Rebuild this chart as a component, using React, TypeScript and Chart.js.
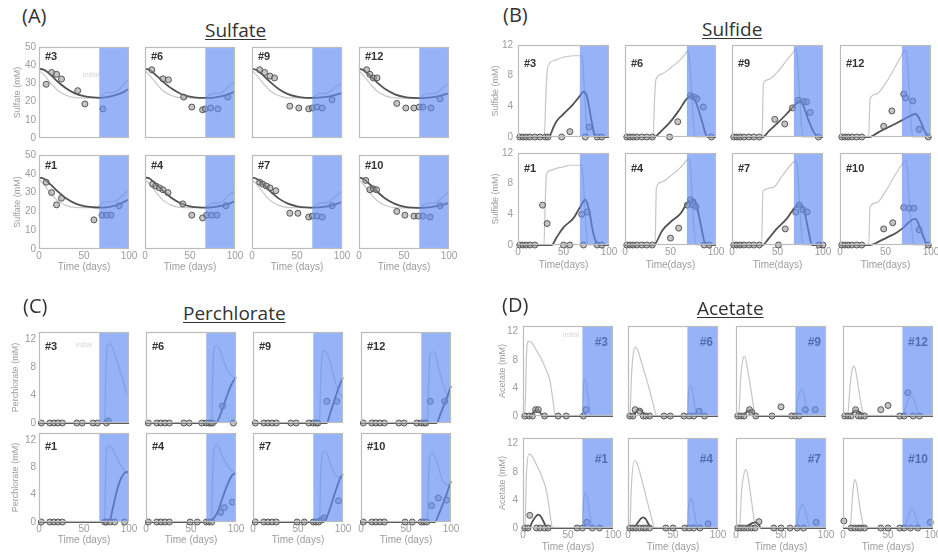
import React, { useEffect, useRef } from "react";
import { Chart, registerables } from "chart.js";
Chart.register(...registerables);

type P = [number, number];

const FONT = "'Liberation Sans', Arial, sans-serif";
const TITLE_FONT = "'Open Sans', 'Liberation Sans', sans-serif";
Chart.defaults.font.family = FONT;

// ---------- tick labels ----------
const xTicks = [0, 50, 100];
const sulfateTicks = [0, 10, 20, 30, 40, 50];
const mmTicks = [0, 4, 8, 12];

// reactor labels: top row then bottom row
const reactorLabels = ["#3", "#6", "#9", "#12", "#1", "#4", "#7", "#10"];

// ---------- (A) Sulfate ----------
const sulfateDark3: P[] = [[0,38],[5,37.6],[10,36],[15,33.8],[20,31.3],[30,27.3],[40,24.5],[50,23],[60,22.3],[68,22.1],[75,22.4],[85,23.6],[95,25.5],[100,27]];
const sulfateLight3: P[] = [[0,37],[5,35],[10,32],[15,29],[20,26.5],[30,23.5],[40,22.2],[50,22],[67,22],[70,23.5],[75,25],[80,25],[85,25.5],[90,27],[95,30],[100,32]];
const sulfatePts3: P[] = [[8,29.5],[14,36],[19.5,35],[25,32.4],[43,26],[51,18.7],[71,16]];

const sulfateDark6: P[] = [[0,38],[5,37.5],[10,35.5],[15,33.3],[20,31],[30,27],[40,24.2],[50,22.7],[60,22.1],[70,22],[80,22.5],[90,23.6],[100,25.5]];
const sulfateLight6: P[] = [[0,37],[5,34.5],[10,31.5],[15,28.5],[20,26],[30,23.2],[40,22.1],[50,22],[67,22],[70,23],[75,24.5],[82,24.5],[88,26],[94,29],[100,31]];
const sulfatePts6: P[] = [[7.5,37.5],[20,32.5],[26,32],[43,22.5],[52,17],[64,15.5],[67,16],[73,16.5],[81,16],[92,22.5]];

const sulfateDark9: P[] = [[0,38],[5,37.4],[10,35.5],[15,33.2],[20,30.8],[30,26.8],[40,24.1],[50,22.7],[60,22.1],[70,22],[80,22.4],[90,23.3],[100,24.8]];
const sulfateLight9: P[] = [[0,37],[5,34.5],[10,31.5],[15,28.5],[20,26],[30,23.2],[40,22.1],[50,22],[67,22],[70,23],[75,24.5],[82,24.5],[88,26],[94,28.5],[100,30.5]];
const sulfatePts9: P[] = [[8.5,37.5],[14,36],[20,34],[25,33],[42,17.5],[52,16.5],[63,16],[67,16.5],[72,17],[78,16.5],[89,21]];

const sulfateDark12: P[] = [[0,38],[5,37.3],[10,35.3],[15,33],[20,30.6],[30,26.6],[40,24],[50,22.6],[60,22],[70,21.9],[80,22.3],[90,23.2],[100,24.5]];
const sulfateLight12: P[] = [[0,37],[5,34.3],[10,31.3],[15,28.3],[20,25.8],[30,23],[40,22],[50,21.9],[67,21.9],[70,22.8],[75,24.3],[82,24.3],[88,25.6],[94,28],[100,30]];
const sulfatePts12: P[] = [[8.5,37.5],[12,35],[16,33],[20,33],[42,19],[52,16.5],[61,16.5],[67,17],[71,17],[80,16.5],[90,21.5]];

const sulfateDark1: P[] = [[0,38],[5,37.5],[10,35.6],[15,33.3],[20,31],[30,27],[40,24.3],[50,22.8],[60,22.2],[70,22],[80,22.6],[90,24],[100,26.5]];
const sulfateLight1: P[] = [[0,37],[5,34.5],[10,31.5],[15,28.5],[20,26],[30,23.2],[40,22.1],[50,22],[65,22],[68,23.5],[72,25],[80,25],[86,25.8],[92,28],[100,31.5]];
const sulfatePts1: P[] = [[8,35.5],[14,30],[19.5,23.5],[25,27],[61,15.5],[70,18],[75,18],[80,18],[89,23]];

const sulfateDark4: P[] = [[0,38],[5,37.5],[10,35.5],[15,33.3],[20,31],[30,27],[40,24.2],[50,22.7],[60,22.1],[70,22],[80,22.5],[90,23.6],[100,25.5]];
const sulfateLight4: P[] = [[0,37],[5,34.5],[10,31.5],[15,28.5],[20,26],[30,23.2],[40,22.1],[50,22],[67,22],[70,23],[75,24.5],[82,24.5],[88,26],[94,29],[100,31]];
const sulfatePts4: P[] = [[8.5,34.5],[12,33.5],[16,32.5],[20,31.5],[25.5,30],[42,24],[52,18],[64,16.5],[68.5,18],[74,18],[80,18],[90,23]];

const sulfateDark7: P[] = [[0,38],[5,37.4],[10,35.5],[15,33.2],[20,30.8],[30,26.8],[40,24.1],[50,22.7],[60,22.1],[70,22],[80,22.4],[90,23.3],[100,25]];
const sulfateLight7: P[] = [[0,37],[5,34.5],[10,31.5],[15,28.5],[20,26],[30,23.2],[40,22.1],[50,22],[67,22],[70,23],[75,24.5],[82,24.5],[88,26],[94,28.5],[100,31]];
const sulfatePts7: P[] = [[8.5,35.5],[12,34.5],[16,33.5],[20,32.5],[26.5,31],[42,19],[51,19],[63,17],[67,17.5],[72,17.5],[78,17],[89,23]];

const sulfateDark10: P[] = [[0,38],[5,37.3],[10,35.3],[15,33],[20,30.6],[30,26.6],[40,24],[50,22.6],[60,22],[70,21.9],[80,22.3],[90,23.2],[100,24.5]];
const sulfateLight10: P[] = [[0,37],[5,34.3],[10,31.3],[15,28.3],[20,25.8],[30,23],[40,22],[50,21.9],[67,21.9],[70,22.8],[75,24.3],[82,24.3],[88,25.6],[94,28],[100,30.5]];
const sulfatePts10: P[] = [[7.5,36.5],[12,31.5],[16,32],[19.5,31.5],[42,20],[51,18],[61,17.5],[66,17.5],[71,17.5],[79,17],[90,23]];

// ---------- (B) Sulfide ----------
const sulfideLight3: P[] = [[0,0],[29,0],[30.5,5],[32,8.5],[34,9.5],[40,10],[50,10.4],[60,10.6],[69,10.6],[71,10],[73,6],[75,2],[77,0],[100,0]];
const sulfideDark3: P[] = [[0,0],[34,0],[38,1],[42,2],[50,3],[60,4.2],[67,5.2],[72,5.9],[75,5.6],[78,4],[81,2],[84,0.3],[86,0],[100,0]];
const sulfidePts3: P[] = [[2,0],[5.5,0],[9,0],[13,0],[18.5,0],[24,0],[30,0],[33,0],[48,0],[57,0.7],[74,0],[78,1.3],[87,0],[92,0]];

const sulfideLight6: P[] = [[0,0],[31,0],[32.5,5],[34,7.5],[40,8.2],[50,9],[60,10],[66,10.8],[69,11.2],[71,10],[73,6],[75,2.5],[77,0],[100,0]];
const sulfideDark6: P[] = [[0,0],[32,0],[40,0.8],[50,2],[60,3.6],[68,5],[73,5.4],[78,4.5],[84,2.3],[89,0.3],[91,0],[100,0]];
const sulfidePts6: P[] = [[2,0],[5.5,0],[9,0],[13,0],[18.5,0],[24,0],[30,0],[49,0],[58,2],[72,5.4],[76,5.2],[79,5],[86,3.9],[95,0]];

const sulfideLight9: P[] = [[0,0],[33,0],[34.5,7],[40,7.5],[50,8.5],[60,10],[67,11],[70,11.5],[72,10],[74,6],[76,2],[78,0],[100,0]];
const sulfideDark9: P[] = [[0,0],[34,0],[40,0.7],[49,1.7],[60,3],[70,4.3],[74,4.7],[78,4.2],[84,2.2],[90,0.6],[95,0],[100,0]];
const sulfidePts9: P[] = [[2,0],[5.5,0],[9,0],[13,0],[18.5,0],[24,0],[30,0],[47,2.3],[58,1.7],[66.5,3.8],[73,4.8],[79,4.6],[82,4.6],[86,3.2],[95,0]];

const sulfideLight12: P[] = [[0,0],[31.5,0],[33,5],[40,5.6],[50,7],[60,9],[67,10.5],[72,11.3],[74,10],[76,6],[78,2],[80,0],[100,0]];
const sulfideDark12: P[] = [[0,0],[33,0],[42,0.6],[52,1.2],[62,1.8],[70,2.3],[78,2.8],[83,3],[88,2.2],[93,0.8],[98,0],[100,0]];
const sulfidePts12: P[] = [[2,0],[5.5,0],[9,0],[13,0],[18.5,0],[24,0],[48,1.4],[57,3.4],[70,5.6],[72,5.1],[80,4.7],[87,1],[97,0]];

const sulfideLight1: P[] = [[0,0],[28.5,0],[30,6],[31.5,9.3],[35,9.7],[42,10],[50,10.2],[57,10.4],[69,10.4],[71,9.5],[73,6],[75,2],[77,0],[100,0]];
const sulfideDark1: P[] = [[0,0],[37,0],[42.5,1],[50,2.3],[61,3.5],[68.5,5],[74,5.9],[78,4.6],[83,1.4],[89,0],[100,0]];
const sulfidePts1: P[] = [[2,0],[5.5,0],[9,0],[13,0],[18.5,0],[27,5.2],[32,2.8],[50,0],[57,0],[70,4],[72,0],[76,4.3],[87,0],[92,0]];

const sulfideLight4: P[] = [[0,0],[33,0],[34.5,7.5],[40,8.2],[50,9],[60,10],[66,10.8],[70,11.2],[72,10],[74,6],[76,2],[78,0],[100,0]];
const sulfideDark4: P[] = [[0,0],[31.5,0],[41,1.9],[50,3],[61,4.1],[70,5.7],[76.5,5.9],[80,4.5],[83,2.8],[89,0],[100,0]];
const sulfidePts4: P[] = [[2,0],[5.5,0],[9,0],[13,0],[18.5,0],[24,0],[30,0],[50,0.9],[59,2.2],[68.5,5.2],[72,5.9],[75,5.2],[78,5],[87,0],[92.5,0]];

const sulfideLight7: P[] = [[0,0],[32.5,0],[34,7],[45,7.5],[55,9],[65,10.5],[70,11],[72,10],[74,6],[76,2],[78,0],[100,0]];
const sulfideDark7: P[] = [[0,0],[33.5,0],[40,0.8],[49,2.1],[60,3.4],[70,5],[75,5.2],[79,4.6],[84,1.9],[88,0],[100,0]];
const sulfidePts7: P[] = [[2,0],[5.5,0],[9,0],[13,0],[18.5,0],[24,0],[30,0],[51,0],[58.5,2.1],[70,4.3],[74,5.2],[78,4.6],[82.5,4.3],[95.5,0],[100,0]];

const sulfideLight10: P[] = [[0,0],[31.5,0],[33,5],[40,5.5],[50,7],[60,9],[68,10.5],[72,11],[74,10],[76,6],[79,2],[81,0],[100,0]];
const sulfideDark10: P[] = [[0,0],[33,0],[42,0.4],[52,1],[62,1.6],[70,2.3],[78,3.2],[83,3.4],[89,1.9],[93,0.7],[96,0],[100,0]];
const sulfidePts10: P[] = [[2,0],[5.5,0],[9,0],[13,0],[18.5,0],[24,0],[48,2.1],[58,2.9],[70,4.9],[76,4.8],[81,4.8],[87,2],[97,0]];

// ---------- (C) Perchlorate ----------
const perchLight3: P[] = [[0,0],[73,0],[74,6],[75.5,10.5],[78,11.3],[81,11],[85,9.5],[90,7.5],[95,5.3],[98,4]];
const perchDark3: P[] = [[0,0],[100,0]];
const perchPts3: P[] = [[2.6,0],[12,0],[16.5,0],[21,0],[26,0],[42,0],[48,0],[60,0],[65,0],[75,0],[77,0.3]];

const perchLight6: P[] = [[0,0],[73,0],[74,6],[75.5,10.5],[78,11],[82,10.5],[86,9],[90,7.6],[95,6.8],[100,6.4]];
const perchDark6: P[] = [[0,0],[78,0],[82,1],[86,2.4],[90,3.9],[95,5.5],[100,6.6]];
const perchPts6: P[] = [[2.6,0],[12,0],[16.5,0],[21,0],[26,0],[42,0],[48,0],[62,0],[67,0],[70,0],[72,0],[74,0],[85,2.4],[97,0]];

const perchLight9: P[] = [[0,0],[74,0],[75,5],[76.5,9.5],[78.5,10.3],[82,10],[86,8.5],[90,6.5],[95,4.5],[100,3.5]];
const perchDark9: P[] = [[0,0],[82,0],[86,1.5],[90,3],[95,5],[100,6.5]];
const perchPts9: P[] = [[2.6,0],[12,0],[16.5,0],[21,0],[26,0],[42,0],[48,0],[62,0],[67,0],[70,0],[72,0],[82,3.1],[93,3.1]];

const perchLight12: P[] = [[0,0],[74,0],[75,5],[76.5,9.5],[78.5,10.2],[82,10],[86,8],[90,6],[95,4.3],[100,3.5]];
const perchDark12: P[] = [[0,0],[84,0],[88,1.2],[92,2.5],[96,3.8],[100,5.3]];
const perchPts12: P[] = [[2.6,0],[12,0],[16.5,0],[21,0],[26,0],[42,0],[48,0],[62,0],[67,0],[70,0],[72,0],[77,3.1],[93,3.1]];

const perchLight1: P[] = [[0,0],[73,0],[74,7],[75.5,10.8],[77.5,11.2],[81,10.8],[85,9.8],[90,8.5],[95,7.5],[100,7]];
const perchDark1: P[] = [[0,0],[78,0],[82,2],[86,4.3],[90,6],[94,7],[97,7.3],[100,7.3]];
const perchPts1: P[] = [[2.6,0],[12,0],[16.5,0],[21,0],[26,0],[73,0],[75,0],[79,0],[84,0],[95,0]];

const perchLight4: P[] = [[0,0],[73,0],[74,7],[75.5,10.5],[78,11.3],[81,10.8],[85,9.6],[90,8.3],[95,7.5],[100,7.1]];
const perchDark4: P[] = [[0,0],[70,0],[75,0.5],[80,1.6],[85,3.5],[90,5.3],[95,6.7],[100,7.2]];
const perchPts4: P[] = [[2.6,0],[12,0],[16.5,0],[21,0],[26,0],[49,0],[57,0],[67,0],[70,0],[73,0],[83,1.4],[87,2.1],[96,2.9]];

const perchLight7: P[] = [[0,0],[74,0],[75,6],[76.5,9.5],[78.5,10.3],[82,10],[86,8.5],[90,7.2],[95,6.6],[100,6.6]];
const perchDark7: P[] = [[0,0],[78,0],[83,1],[88,3],[93,5],[97,6.4],[100,7]];
const perchPts7: P[] = [[2.6,0],[12,0],[16.5,0],[21,0],[26,0],[49,0],[57,0],[67,0],[70,0],[73,0],[76,0.3],[79,0.6],[95,3.1]];

const perchLight10: P[] = [[0,0],[74,0],[75,6],[76.5,9.5],[79,10],[83,9.3],[87,7.5],[91,6],[95,5.5],[100,5]];
const perchDark10: P[] = [[0,0],[82,0],[86,1],[90,2.3],[95,4],[100,6]];
const perchPts10: P[] = [[2.6,0],[12,0],[16.5,0],[21,0],[26,0],[49,0],[57,0],[67,0],[70,0],[73,0],[78.5,2.4],[86,3.5],[95,3.2]];

// ---------- (D) Acetate ----------
const acetLight3: P[] = [[0,0],[2,0],[4,9],[6,10.6],[10,10.4],[15,9.3],[20,8.2],[25,6.8],[30,5],[33,2.5],[36,0],[66,0],[67,3.8],[68.5,5.2],[70,4.8],[72,3],[74,1],[76,0],[100,0]];
const acetDark3: P[] = [[0,0],[9,0],[12,0.6],[15,0.9],[18,0.7],[22,0],[100,0]];
const acetPts3: P[] = [[2,0],[6.7,0],[10.4,0],[14,0.9],[17,0.9],[24,0],[39,0],[48,0],[67,0],[70,0.9]];

const acetLight6: P[] = [[0,0],[2,0],[4,6],[6,9],[8,9.8],[11,9.3],[15,7.6],[20,5.5],[25,3.2],[29,1.2],[32,0],[66,0],[67,3],[69,4.3],[71,4],[73,2.5],[75,0.8],[77,0],[100,0]];
const acetDark6: P[] = [[0,0],[6,0],[9,0.6],[12,0.9],[15,0.7],[19,0.2],[22,0],[100,0]];
const acetPts6: P[] = [[2,0],[5.5,0],[8,0.9],[13,0.7],[17,0],[20,0],[24,0],[40,0],[47,0],[62,0],[68,0],[73,0],[79,0.7],[85,0]];

const acetLight9: P[] = [[0,0],[3,0],[5,5],[7.5,8],[9.5,8.5],[12,7.3],[14,5.8],[17.5,3],[20,1],[22,0],[66,0],[68,2],[71,3.5],[74,3.8],[76,2.8],[78,1],[80,0],[100,0]];
const acetDark9: P[] = [[0,0],[8,0],[11,0.5],[14,0.8],[17,0.6],[20,0.2],[23,0],[100,0]];
const acetPts9: P[] = [[2,0],[5.5,0],[9,0],[15,0.9],[17.5,0.5],[22,0],[40,0],[50,1.3],[62,0],[66,0],[70,0],[77,0.9],[88,0.9]];

const acetLight12: P[] = [[0,0],[5,0],[8,4.5],[10.5,6.8],[12,7.1],[14,6.5],[16,5],[19,2.5],[22,0.5],[24,0],[67,0],[70,1.5],[74,2.6],[77,2.8],[80,2],[83,0.5],[85,0],[100,0]];
const acetDark12: P[] = [[0,0],[8,0],[11,0.5],[14,0.8],[18,0.6],[22,0.2],[25,0],[100,0]];
const acetPts12: P[] = [[2,0],[5.5,0],[9,0],[14,0.9],[17,0],[20,0],[24,0],[42,0.9],[50,1.5],[63,0],[68,0],[72,3.3],[78,0],[85,0]];

const acetLight1: P[] = [[0,0],[2,0],[4,8],[6.7,10.5],[10,10.2],[15,9],[20,7.6],[25,5.8],[28,3.9],[30,2],[31.6,0.6],[33,0],[66,0],[67,3],[69,5],[71,4.6],[73,3],[75.5,1],[78,0],[100,0]];
const acetDark1: P[] = [[0,0],[7,0],[10,0.8],[14,1.6],[17,1.9],[20,1.6],[24,0.6],[27,0],[100,0]];
const acetPts1: P[] = [[2,0],[5.5,0],[7.5,1.8],[15,0],[19,0],[24,0],[28,0],[60,0],[66,0],[70.8,0.8],[77,0],[85,0]];

const acetLight4: P[] = [[0,0],[2,0],[4,6.5],[7.4,9.6],[10,9.2],[15,7],[20,4.5],[24,2.5],[28,0.6],[30,0],[66,0],[67,2.5],[69.5,4.2],[72,3.6],[74,2],[76,0.6],[78,0],[100,0]];
const acetDark4: P[] = [[0,0],[6,0],[10,0.6],[14,1.3],[17,1.5],[20,1.2],[24,0.3],[27,0],[100,0]];
const acetPts4: P[] = [[2,0],[5.5,0],[9,0],[13,0],[17,0],[20,0],[24,0],[42,0],[50,0],[63,0],[68,0],[73,0],[80,0],[89,0.6]];

const acetLight7: P[] = [[0,0],[4,0],[6,5],[9,7.8],[11,8.3],[13,7.6],[16,5],[19,2.2],[21,0.6],[22.5,0],[67,0],[69,1.5],[72,3],[74.5,3.3],[77,2.5],[80,0.8],[82,0],[100,0]];
const acetDark7: P[] = [[0,0],[10,0],[14,0.4],[18,0.7],[22,0.8],[25,0.5],[28,0],[100,0]];
const acetPts7: P[] = [[2,0],[5.5,0],[9,0],[13,0],[17,0],[21,0],[25.5,0.9],[42,0],[50,0],[60,0],[68,0],[75,0],[89,0.8]];

const acetLight10: P[] = [[0,0],[8,0],[10,3.5],[12,6.3],[13,6.9],[15,6.3],[17,4.5],[20,2],[22.5,0.5],[24,0],[68,0],[71,1],[74,2.2],[77,2.7],[80,2],[83,0.6],[85,0],[100,0]];
const acetDark10: P[] = [[0,0],[10,0],[15,0.2],[20,0.3],[25,0.1],[28,0],[100,0]];
const acetPts10: P[] = [[1,1],[9,0],[13,0],[17,0],[20,0],[24,0],[42,0],[50,0],[63,0],[68,0],[75,0],[83,0],[97,0.8]];

// ---------- panel assembly ----------
interface Series { light: P[]; dark: P[]; pts: P[] }

const sulfateSeries: Series[] = [
  { light: sulfateLight3, dark: sulfateDark3, pts: sulfatePts3 },
  { light: sulfateLight6, dark: sulfateDark6, pts: sulfatePts6 },
  { light: sulfateLight9, dark: sulfateDark9, pts: sulfatePts9 },
  { light: sulfateLight12, dark: sulfateDark12, pts: sulfatePts12 },
  { light: sulfateLight1, dark: sulfateDark1, pts: sulfatePts1 },
  { light: sulfateLight4, dark: sulfateDark4, pts: sulfatePts4 },
  { light: sulfateLight7, dark: sulfateDark7, pts: sulfatePts7 },
  { light: sulfateLight10, dark: sulfateDark10, pts: sulfatePts10 },
];
const sulfideSeries: Series[] = [
  { light: sulfideLight3, dark: sulfideDark3, pts: sulfidePts3 },
  { light: sulfideLight6, dark: sulfideDark6, pts: sulfidePts6 },
  { light: sulfideLight9, dark: sulfideDark9, pts: sulfidePts9 },
  { light: sulfideLight12, dark: sulfideDark12, pts: sulfidePts12 },
  { light: sulfideLight1, dark: sulfideDark1, pts: sulfidePts1 },
  { light: sulfideLight4, dark: sulfideDark4, pts: sulfidePts4 },
  { light: sulfideLight7, dark: sulfideDark7, pts: sulfidePts7 },
  { light: sulfideLight10, dark: sulfideDark10, pts: sulfidePts10 },
];
const perchSeries: Series[] = [
  { light: perchLight3, dark: perchDark3, pts: perchPts3 },
  { light: perchLight6, dark: perchDark6, pts: perchPts6 },
  { light: perchLight9, dark: perchDark9, pts: perchPts9 },
  { light: perchLight12, dark: perchDark12, pts: perchPts12 },
  { light: perchLight1, dark: perchDark1, pts: perchPts1 },
  { light: perchLight4, dark: perchDark4, pts: perchPts4 },
  { light: perchLight7, dark: perchDark7, pts: perchPts7 },
  { light: perchLight10, dark: perchDark10, pts: perchPts10 },
];
const acetSeries: Series[] = [
  { light: acetLight3, dark: acetDark3, pts: acetPts3 },
  { light: acetLight6, dark: acetDark6, pts: acetPts6 },
  { light: acetLight9, dark: acetDark9, pts: acetPts9 },
  { light: acetLight12, dark: acetDark12, pts: acetPts12 },
  { light: acetLight1, dark: acetDark1, pts: acetPts1 },
  { light: acetLight4, dark: acetDark4, pts: acetPts4 },
  { light: acetLight7, dark: acetDark7, pts: acetPts7 },
  { light: acetLight10, dark: acetDark10, pts: acetPts10 },
];

interface PanelCfg {
  letter: string; title: string; yTitle: string; xTitle: string;
  yMax: number; yTicks: number[]; blueStart: number;
  cols: number[]; boxW: number; rows: { top: number; h: number }[];
  yW: number; tickPad: number; xH: number;
  labelDy: number[]; labelRight: boolean;
  note: { dx: number; dy: number };
  series: Series[];
  letterPos: { left: number; top: number }; titlePos: { left: number; top: number };
}

const panels: PanelCfg[] = [
  {
    letter: "(A)", title: "Sulfate", yTitle: "Sulfate (mM)", xTitle: "Time (days)",
    yMax: 50, yTicks: sulfateTicks, blueStart: 67,
    cols: [39, 145, 252, 359], boxW: 90, rows: [{ top: 47, h: 91 }, { top: 155, h: 94 }],
    yW: 27, tickPad: 3, xH: 24, labelDy: [10, 11], labelRight: false,
    note: { dx: 52, dy: 28 }, series: sulfateSeries,
    letterPos: { left: 22, top: 6 }, titlePos: { left: 205, top: 21 },
  },
  {
    letter: "(B)", title: "Sulfide", yTitle: "Sulfide (mM)", xTitle: "Time(days)",
    yMax: 12, yTicks: mmTicks, blueStart: 68,
    cols: [518, 625, 732, 840], boxW: 91, rows: [{ top: 45, h: 92 }, { top: 153, h: 92 }],
    yW: 28, tickPad: 5, xH: 26, labelDy: [19, 16], labelRight: false,
    note: { dx: -100, dy: 0 }, series: sulfideSeries,
    letterPos: { left: 503, top: 5 }, titlePos: { left: 702, top: 20 },
  },
  {
    letter: "(C)", title: "Perchlorate", yTitle: "Perchlorate (mM)", xTitle: "Time (days)",
    yMax: 13, yTicks: mmTicks, blueStart: 67,
    cols: [39, 146, 253, 361], boxW: 90, rows: [{ top: 332, h: 91 }, { top: 433, h: 89 }],
    yW: 29, tickPad: 3, xH: 24, labelDy: [15, 14], labelRight: false,
    note: { dx: 45, dy: 13 }, series: perchSeries,
    letterPos: { left: 23, top: 296 }, titlePos: { left: 183, top: 304 },
  },
  {
    letter: "(D)", title: "Acetate", yTitle: "Acetate (mM)", xTitle: "Time (days)",
    yMax: 12.8, yTicks: mmTicks, blueStart: 66,
    cols: [523, 628, 736, 843], boxW: 90, rows: [{ top: 326, h: 90 }, { top: 438, h: 90 }],
    yW: 26, tickPad: 5, xH: 25, labelDy: [17, 22], labelRight: true,
    note: { dx: 48, dy: 9 }, series: acetSeries,
    letterPos: { left: 502, top: 295 }, titlePos: { left: 697, top: 299 },
  },
];

const TICK_COLOR = "#9c9c9c";

function Sub({ p, col, row }: { p: PanelCfg; col: number; row: number }) {
  const ref = useRef<HTMLCanvasElement>(null);
  const first = col === 0;
  const bottom = row === 1;
  const idx = row * 4 + col;
  const s = p.series[idx];
  const label = reactorLabels[idx];
  const boxL = p.cols[col];
  const boxT = p.rows[row].top;
  const boxW = p.boxW;
  const boxH = p.rows[row].h;
  const padTop = 12, padRight = 12, padLeft = first ? 0 : 6, padBottom = bottom ? 0 : 12;
  const yW = first ? p.yW : 0;
  const xH = bottom ? p.xH : 0;
  const cw = padLeft + yW + boxW + padRight;
  const ch = padTop + boxH + xH + padBottom;
  const left = boxL - yW - padLeft;
  const top = boxT - padTop;

  useEffect(() => {
    const c = ref.current;
    if (!c) return;
    const overlay = {
      id: "overlay" + idx,
      afterDatasetsDraw(chart: any) {
        const { ctx, chartArea: a, scales } = chart;
        const xs = scales.x;
        ctx.save();
        if (p.labelRight) {
          ctx.fillStyle = "#333";
          ctx.font = `bold 12px ${FONT}`;
          ctx.textAlign = "right";
          ctx.textBaseline = "middle";
          ctx.fillText(label, a.right - 5, a.top + p.labelDy[row]);
        }
        const bx = xs.getPixelForValue(p.blueStart);
        ctx.fillStyle = "rgba(95,140,245,0.66)";
        ctx.fillRect(bx, a.top, a.right - bx, a.bottom - a.top);
        if (!p.labelRight) {
          ctx.fillStyle = "#333";
          ctx.font = `bold 11px ${FONT}`;
          ctx.textAlign = "left";
          ctx.textBaseline = "middle";
          ctx.fillText(label, a.left + 6, a.top + p.labelDy[row]);
        }
        if (idx === 0 && p.note.dx > 0) {
          ctx.fillStyle = "#d6d6d6";
          ctx.font = `7px ${FONT}`;
          ctx.textAlign = "center";
          ctx.textBaseline = "middle";
          ctx.fillText("Initial", a.left + p.note.dx, a.top + p.note.dy);
        }
        ctx.strokeStyle = "#bcbcbc";
        ctx.lineWidth = 1.2;
        ctx.strokeRect(a.left + 0.5, a.top + 0.5, a.right - a.left - 1, a.bottom - a.top - 1);
        ctx.restore();
      },
    };
    const toXY = (arr: P[]) => arr.map(([x, y]) => ({ x, y }));
    const chart = new Chart(c, {
      type: "line",
      data: {
        datasets: [
          {
            data: toXY(s.pts), showLine: false, pointRadius: 3, pointBorderWidth: 1,
            pointBorderColor: "#555", pointBackgroundColor: "rgba(150,150,150,0.55)",
            order: 1, clip: 10,
          } as any,
          {
            data: toXY(s.dark), borderColor: "#525252", borderWidth: 1.8, pointRadius: 0,
            cubicInterpolationMode: "monotone", order: 2, clip: 4,
          },
          {
            data: toXY(s.light), borderColor: "#c6c6c6", borderWidth: 1.2, pointRadius: 0,
            cubicInterpolationMode: "monotone", order: 3, clip: 4,
          },
        ],
      },
      options: {
        animation: false,
        responsive: false,
        devicePixelRatio: 1,
        events: [],
        layout: { padding: { left: padLeft, top: padTop, right: padRight, bottom: padBottom } },
        plugins: { legend: { display: false }, tooltip: { enabled: false }, title: { display: false } },
        scales: {
          x: {
            type: "linear", min: 0, max: 100,
            grid: { display: false, drawTicks: false }, border: { display: false },
            afterBuildTicks: (sc: any) => { sc.ticks = xTicks.map((v) => ({ value: v })); },
            afterFit: (sc: any) => { sc.height = xH; },
            ticks: {
              display: bottom, maxRotation: 0, minRotation: 0, autoSkip: false, padding: 1,
              color: TICK_COLOR, font: { size: 10, family: FONT },
            },
            title: {
              display: bottom, text: p.xTitle, color: TICK_COLOR,
              font: { size: 10, family: FONT }, padding: { top: 0, bottom: 0 },
            },
          },
          y: {
            type: "linear", min: 0, max: p.yMax,
            grid: { display: false, drawTicks: false }, border: { display: false },
            afterBuildTicks: (sc: any) => { sc.ticks = p.yTicks.map((v) => ({ value: v })); },
            afterFit: (sc: any) => { sc.width = yW; },
            ticks: {
              display: first, padding: p.tickPad, color: TICK_COLOR,
              font: { size: 10, family: FONT },
            },
            title: {
              display: first, text: p.yTitle, color: TICK_COLOR,
              font: { size: 9, family: FONT }, padding: { top: 0, bottom: 0 },
            },
          },
        } as any,
      },
      plugins: [overlay],
    });
    return () => chart.destroy();
  }, []);

  return (
    <canvas
      ref={ref}
      width={cw}
      height={ch}
      style={{ position: "absolute", left, top, width: cw, height: ch }}
    />
  );
}

export default function App() {
  return (
    <div
      style={{
        position: "fixed", left: 0, top: 0, width: 938, height: 552,
        overflow: "hidden", background: "#fff",
      }}
    >
      {panels.map((p) => (
        <React.Fragment key={p.letter}>
          <div
            style={{
              position: "absolute", left: p.letterPos.left, top: p.letterPos.top,
              fontFamily: TITLE_FONT, fontSize: 20, lineHeight: 1, color: "#333", whiteSpace: "nowrap",
            }}
          >
            {p.letter}
          </div>
          <div
            style={{
              position: "absolute", left: p.titlePos.left, top: p.titlePos.top,
              fontFamily: TITLE_FONT, fontSize: 19, lineHeight: 1, color: "#333",
              textDecoration: "underline", textUnderlineOffset: 2, whiteSpace: "nowrap",
            }}
          >
            {p.title}
          </div>
          {[0, 1].map((row) =>
            [0, 1, 2, 3].map((col) => (
              <Sub key={`${p.letter}-${row}-${col}`} p={p} col={col} row={row} />
            ))
          )}
        </React.Fragment>
      ))}
    </div>
  );
}
